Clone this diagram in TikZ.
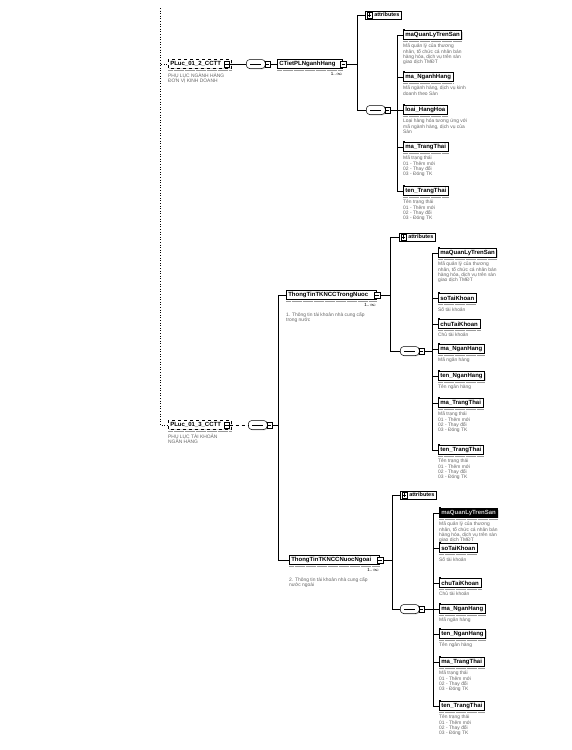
\documentclass[tikz,border=0pt]{standalone}
\usepackage{fontspec}
\setmainfont{Liberation Sans}
\usetikzlibrary{positioning}
\usetikzlibrary{shadows}

\tikzset{
  elem/.style={draw,line width=.6pt,fill=white,anchor=west,inner xsep=2pt,inner ysep=1pt,
    minimum height=8.5pt,font=\fontsize{6}{7}\selectfont\bfseries,
    drop shadow={shadow xshift=.9pt,shadow yshift=-.9pt,fill=gray!60}},
  optelem/.style={elem,draw=none},
  optframe/.style={dashed,line width=.5pt},
  selelem/.style={elem,fill=black,text=gray!35},
  strip/.style={line width=.9pt,gray!80,dash pattern=on .6pt off .5pt},
  desc/.style={anchor=north west,align=left,inner sep=0pt,text=black!60,
    font=\fontsize{4.9}{5.3}\selectfont},
  card/.style={anchor=north east,inner sep=0pt,font=\fontsize{4.5}{5}\selectfont},
  tog/.style={draw,fill=white,line width=.4pt,minimum size=5.5pt,inner sep=0pt,
    path picture={\draw([xshift=1pt]path picture bounding box.west)--([xshift=-1pt]path picture bounding box.east);}},
  togplus/.style={tog,path picture={
    \draw([xshift=1pt]path picture bounding box.west)--([xshift=-1pt]path picture bounding box.east);
    \draw([yshift=1pt]path picture bounding box.south)--([yshift=-1pt]path picture bounding box.north);}},
  seqbox/.style={draw,line width=.5pt,fill=white,rounded corners=3.5pt,anchor=west,
    minimum width=19pt,minimum height=9pt,inner sep=0pt,
    drop shadow={shadow xshift=.8pt,shadow yshift=-.8pt,fill=gray!60}},
  attrbox/.style={draw,line width=.5pt,fill=white,anchor=west,inner xsep=2pt,inner ysep=1pt,
    minimum height=8.5pt,font=\fontsize{5.5}{6}\selectfont\bfseries},
  wire/.style={line width=.7pt}
}

\begin{document}
\begin{tikzpicture}[x=1pt,y=-1pt]
\useasboundingbox[fill=white] (0,0) rectangle (571,750);

% dotted root line
\coordinate (top) at (160,8);

% PLuc_01_2_CCTT
\node[optelem] (p1) at (168,64) {PLuc\_01\_2\_CCTT\kern8pt};
\draw[optframe] (p1.north west) rectangle (p1.south east);
\node[tog] (tp1) at ([xshift=-4.5pt]p1.east) {};
\draw[strip] ([yshift=-2pt]p1.south west) -- ([yshift=-2pt]p1.south east);
\node[desc] at ([yshift=-4.5pt]p1.south west) {PHỤ LỤC NGÀNH HÀNG\\ĐƠN VỊ KINH DOANH};
\draw[dotted,line width=.6pt] (top) |- (p1.west);

\node[seqbox] (s1) at (246,64) {\rule{11pt}{.5pt}};
\node[tog] (ts1) at ([xshift=2pt]s1.east) {};
\draw[wire] (tp1.east) -- (s1.west);

\node[elem] (ct) at (277,64) {CTietPLNganhHang\kern5pt};
\node[tog] (tct) at ([xshift=.5pt]ct.east) {};
\draw[strip] ([yshift=-2pt]ct.south west) -- ([yshift=-2pt]ct.south east);
\node[card] at ([yshift=-4pt]ct.south east) {1..$\infty$};
\draw[wire] (ts1.east) -- (ct.west);

\coordinate (bc1) at (357,64);
\draw[wire] (tct.east) -- (bc1);
\node[attrbox] (at1) at (365,15) {\hspace{7pt}attributes};
\node[togplus] at ([xshift=4.5pt]at1.west) {};
\draw[wire] (bc1) |- (at1.west);
\node[seqbox] (s2) at (366,110) {\rule{11pt}{.5pt}};
\node[tog] (ts2) at ([xshift=2pt]s2.east) {};
\draw[wire] (bc1) |- (s2.west);

\coordinate (bus1) at (397,35);
\draw[wire] (ts2.east) -- (ts2.east -| bus1);
\foreach \nm/\yy/\txt/\dsc in {
  g1a/35/maQuanLyTrenSan/{Mã quản lý của thương\\nhân, tổ chức cá nhân bán\\hàng hóa, dịch vụ trên sàn\\giao dịch TMĐT},
  g1b/77/ma\_NganhHang/{Mã ngành hàng, dịch vụ kinh\\doanh theo Sàn},
  g1c/110/loai\_HangHoa/{Loại hàng hóa tương ứng với\\mã ngành hàng, dịch vụ của\\Sàn},
  g1d/147/ma\_TrangThai/{Mã trạng thái\\01 - Thêm mới\\02 - Thay đổi\\03 - Đóng TK},
  g1e/191/ten\_TrangThai/{Tên trạng thái\\01 - Thêm mới\\02 - Thay đổi\\03 - Đóng TK}}{
  \node[elem] (\nm) at (403,\yy) {\txt};
  \fill ([shift={(-.5,-1.5)}]\nm.north west) rectangle ++(2.5,2.5);
  \draw[strip] ([yshift=-2pt]\nm.south west) -- ([yshift=-2pt]\nm.south east);
  \node[desc] at ([yshift=-4.5pt]\nm.south west) {\dsc};
  \draw[wire] (bus1) |- (\nm.west);
}

% PLuc_01_3_CCTT
\node[optelem] (p3) at (168,425) {PLuc\_01\_3\_CCTT\kern8pt};
\draw[optframe] (p3.north west) rectangle (p3.south east);
\node[tog] (tp3) at ([xshift=-4.5pt]p3.east) {};
\draw[strip] ([yshift=-2pt]p3.south west) -- ([yshift=-2pt]p3.south east);
\node[desc] at ([yshift=-4.5pt]p3.south west) {PHỤ LỤC TÀI KHOẢN\\NGÂN HÀNG};
\draw[dotted,line width=.6pt] (top) |- (p3.west);

\node[seqbox] (s3) at (248,425) {\rule{11pt}{.5pt}};
\node[tog] (ts3) at ([xshift=2pt]s3.east) {};
\draw[wire,dashed] (tp3.east) -- (s3.west);
\coordinate (bc2) at (278,425);
\draw[wire] (ts3.east) -- (bc2);

\node[elem] (tn) at (286,295) {ThongTinTKNCCTrongNuoc\kern6pt};
\node[tog] (ttn) at ([xshift=.5pt]tn.east) {};
\draw[strip] ([yshift=-2pt]tn.south west) -- ([yshift=-2pt]tn.south east);
\node[card] at ([yshift=-4pt]tn.south east) {1..$\infty$};
\node[desc] at ([yshift=-13pt]tn.south west) {1. Thông tin tài khoản nhà cung cấp\\trong nước};
\draw[wire] (bc2) |- (tn.west);

\node[elem] (tf) at (289,560) {ThongTinTKNCCNuocNgoai\kern6pt};
\node[tog] (ttf) at ([xshift=.5pt]tf.east) {};
\draw[strip] ([yshift=-2pt]tf.south west) -- ([yshift=-2pt]tf.south east);
\node[card] at ([yshift=-4pt]tf.south east) {1..$\infty$};
\node[desc] at ([yshift=-13pt]tf.south west) {2. Thông tin tài khoản nhà cung cấp\\nước ngoài};
\draw[wire] (bc2) |- (tf.west);

% trong nuoc
\coordinate (bc3) at (390,295);
\draw[wire] (ttn.east) -- (bc3);
\node[attrbox] (at2) at (399,237) {\hspace{7pt}attributes};
\node[togplus] at ([xshift=4.5pt]at2.west) {};
\draw[wire] (bc3) |- (at2.west);
\node[seqbox] (s4) at (400,351) {\rule{11pt}{.5pt}};
\node[tog] (ts4) at ([xshift=2pt]s4.east) {};
\draw[wire] (bc3) |- (s4.west);

\coordinate (bus2) at (432,253);
\draw[wire] (ts4.east) -- (ts4.east -| bus2);
\foreach \nm/\yy/\txt/\dsc in {
  g2a/253/maQuanLyTrenSan/{Mã quản lý của thương\\nhân, tổ chức cá nhân bán\\hàng hóa, dịch vụ trên sàn\\giao dịch TMĐT},
  g2b/298/soTaiKhoan/{Số tài khoản},
  g2c/324/chuTaiKhoan/{Chủ tài khoản},
  g2d/349/ma\_NganHang/{Mã ngân hàng},
  g2e/376/ten\_NganHang/{Tên ngân hàng},
  g2f/403/ma\_TrangThai/{Mã trạng thái\\01 - Thêm mới\\02 - Thay đổi\\03 - Đóng TK},
  g2g/450/ten\_TrangThai/{Tên trạng thái\\01 - Thêm mới\\02 - Thay đổi\\03 - Đóng TK}}{
  \node[elem] (\nm) at (438,\yy) {\txt};
  \fill ([shift={(-.5,-1.5)}]\nm.north west) rectangle ++(2.5,2.5);
  \draw[strip] ([yshift=-2pt]\nm.south west) -- ([yshift=-2pt]\nm.south east);
  \node[desc] at ([yshift=-4.5pt]\nm.south west) {\dsc};
  \draw[wire] (bus2) |- (\nm.west);
}

% nuoc ngoai
\coordinate (bc4) at (392,560);
\draw[wire] (ttf.east) -- (bc4);
\node[attrbox] (at3) at (400,495) {\hspace{7pt}attributes};
\node[togplus] at ([xshift=4.5pt]at3.west) {};
\draw[wire] (bc4) |- (at3.west);
\node[seqbox] (s5) at (400,609) {\rule{11pt}{.5pt}};
\node[tog] (ts5) at ([xshift=2pt]s5.east) {};
\draw[wire] (bc4) |- (s5.west);

\coordinate (bus3) at (433,513);
\draw[wire] (ts5.east) -- (ts5.east -| bus3);
\node[selelem] (g3a) at (439,513) {maQuanLyTrenSan};
\fill ([shift={(-.5,-1.5)}]g3a.north west) rectangle ++(2.5,2.5);
\draw[strip] ([yshift=-2pt]g3a.south west) -- ([yshift=-2pt]g3a.south east);
\node[desc] at ([yshift=-4.5pt]g3a.south west) {Mã quản lý của thương\\nhân, tổ chức cá nhân bán\\hàng hóa, dịch vụ trên sàn\\giao dịch TMĐT};
\draw[wire] (bus3) |- (g3a.west);
\foreach \nm/\yy/\txt/\dsc in {
  g3b/548/soTaiKhoan/{Số tài khoản},
  g3c/583/chuTaiKhoan/{Chủ tài khoản},
  g3d/609/ma\_NganHang/{Mã ngân hàng},
  g3e/634/ten\_NganHang/{Tên ngân hàng},
  g3f/662/ma\_TrangThai/{Mã trạng thái\\01 - Thêm mới\\02 - Thay đổi\\03 - Đóng TK},
  g3g/706/ten\_TrangThai/{Tên trạng thái\\01 - Thêm mới\\02 - Thay đổi\\03 - Đóng TK}}{
  \node[elem] (\nm) at (439,\yy) {\txt};
  \fill ([shift={(-.5,-1.5)}]\nm.north west) rectangle ++(2.5,2.5);
  \draw[strip] ([yshift=-2pt]\nm.south west) -- ([yshift=-2pt]\nm.south east);
  \node[desc] at ([yshift=-4.5pt]\nm.south west) {\dsc};
  \draw[wire] (bus3) |- (\nm.west);
}
\end{tikzpicture}
\end{document}
